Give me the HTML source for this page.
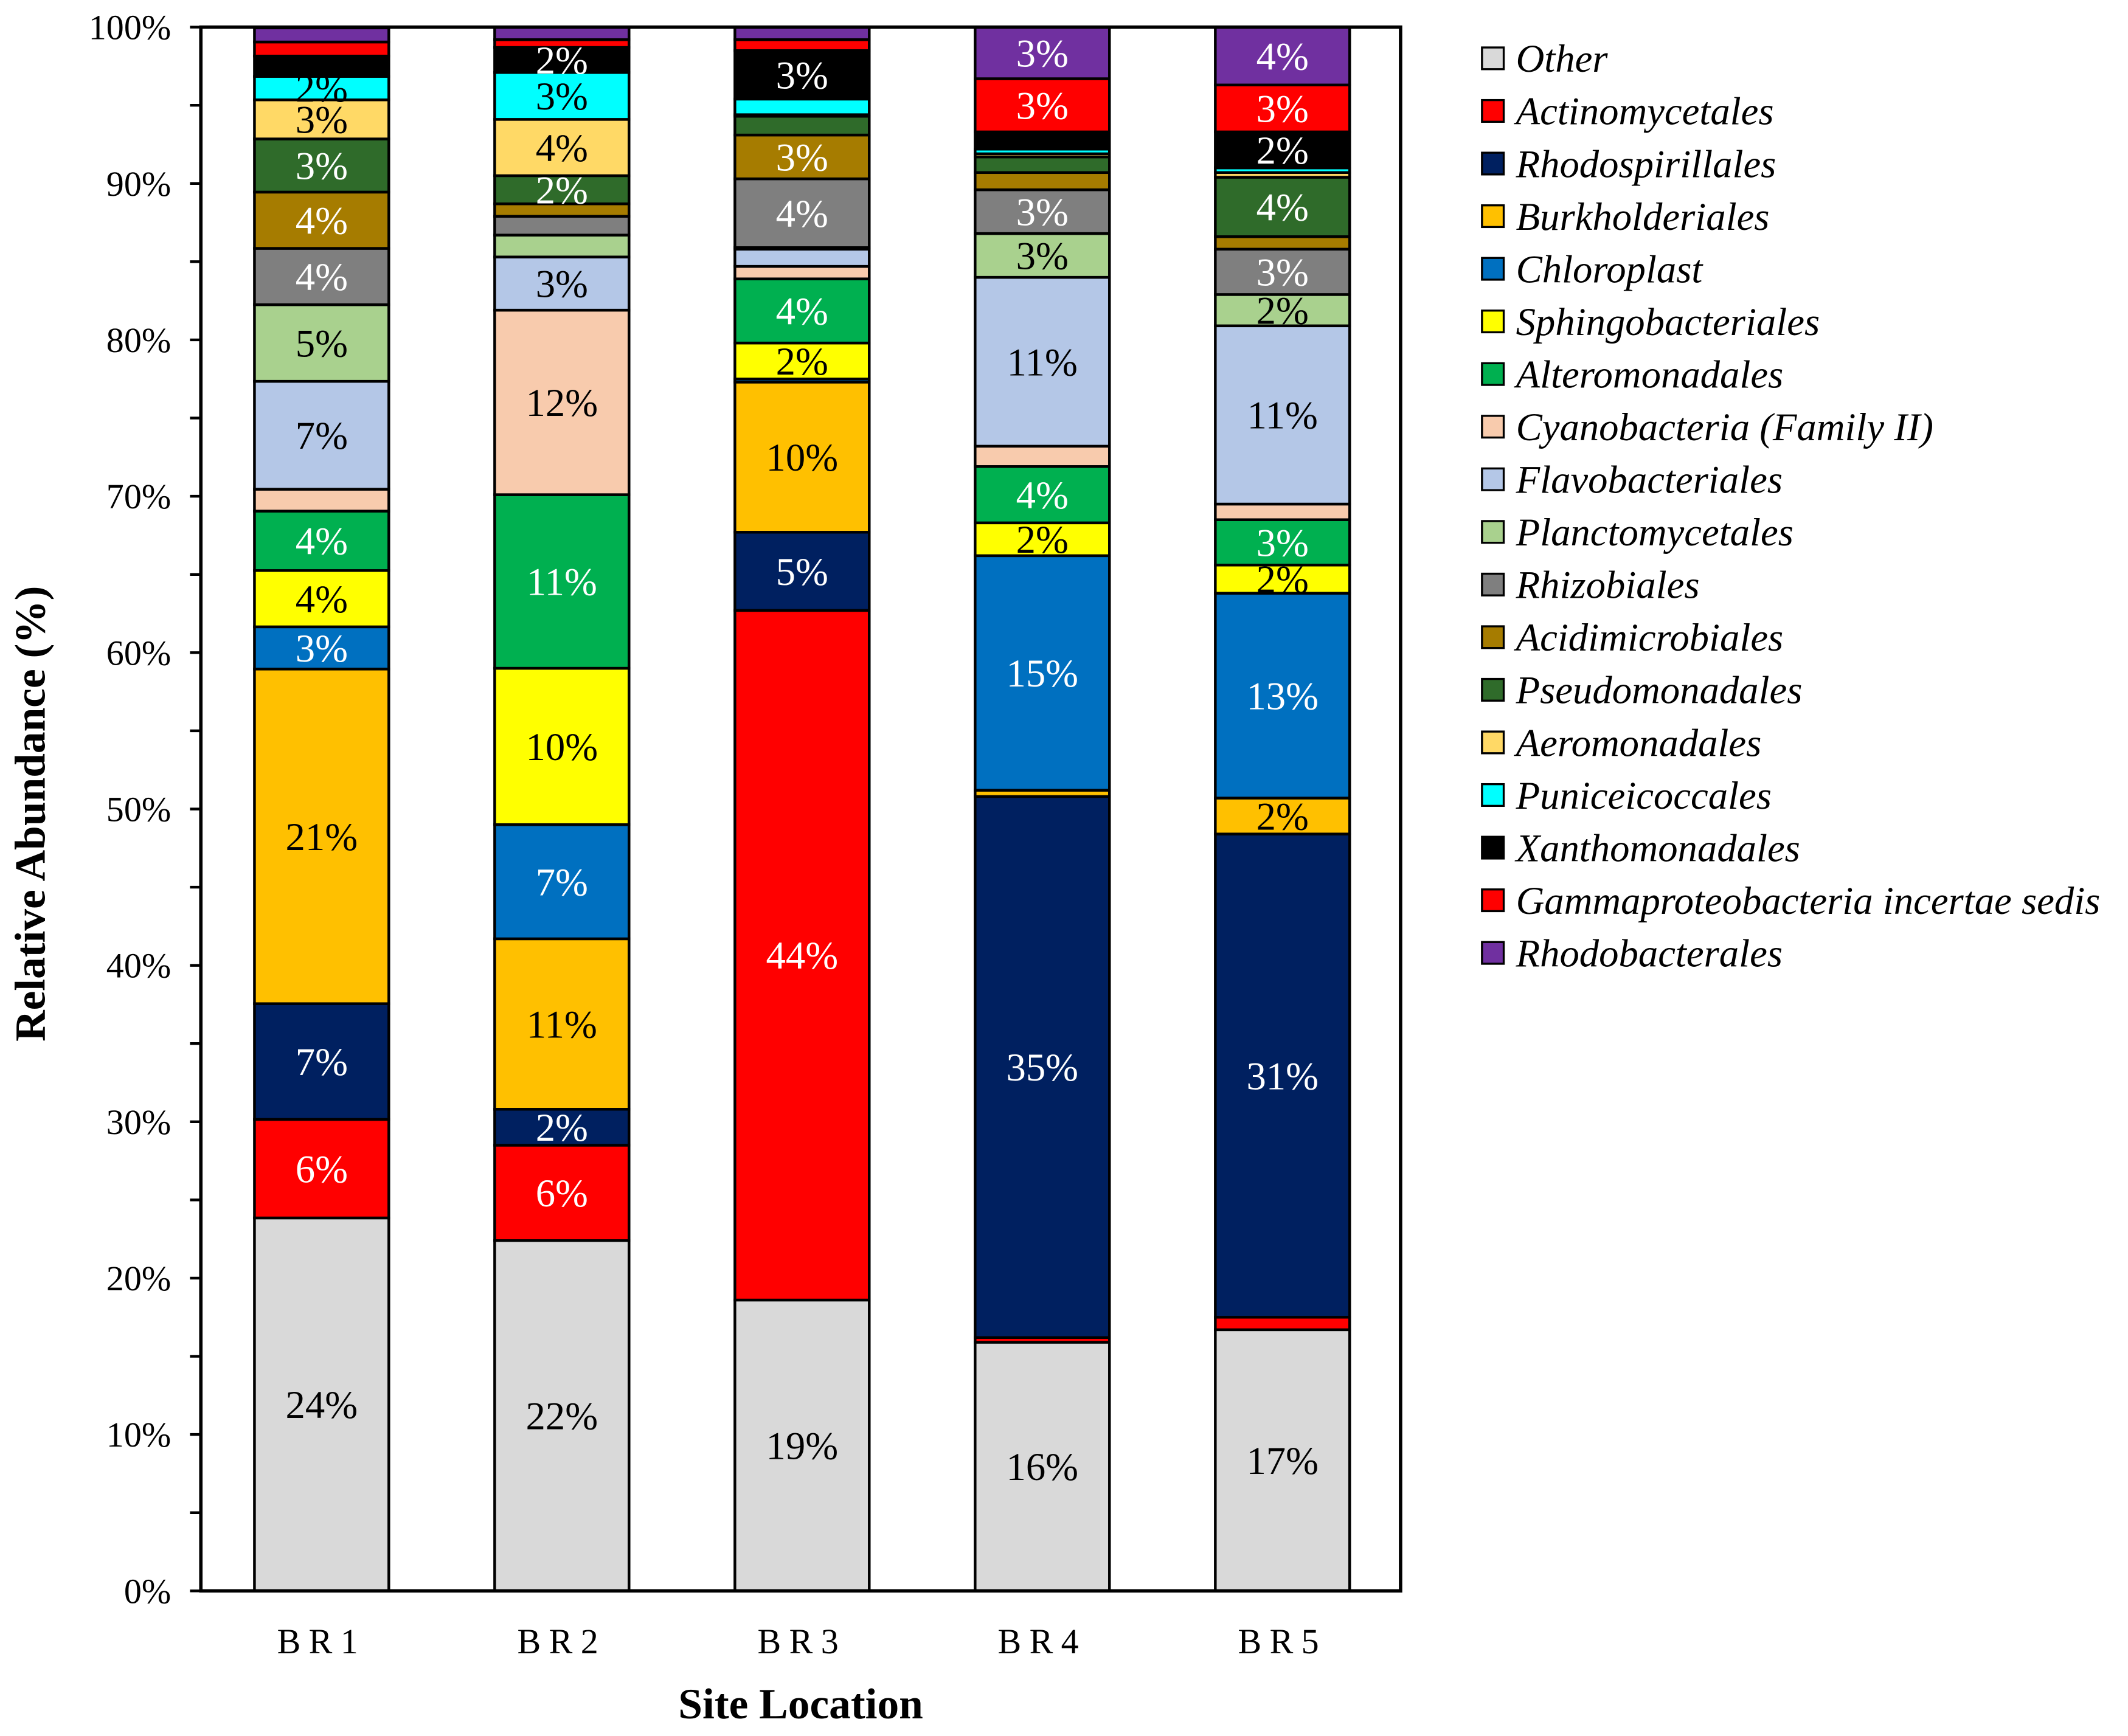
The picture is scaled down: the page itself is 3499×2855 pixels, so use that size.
<!DOCTYPE html>
<html><head><meta charset="utf-8"><style>
html,body{margin:0;padding:0;background:#fff;}
svg{display:block;}
svg text{font-family:"Liberation Serif","Times New Roman",serif;}
</style></head><body>
<svg id="chart" width="3499" height="2855" viewBox="0 0 1568 1280" preserveAspectRatio="none" xmlns="http://www.w3.org/2000/svg"></svg>
<script>
const categories = ["BR1","BR2","BR3","BR4","BR5"];
const seriesNames = ["Other","Actinomycetales","Rhodospirillales","Burkholderiales","Chloroplast","Sphingobacteriales","Alteromonadales","Cyanobacteria (Family II)","Flavobacteriales","Planctomycetales","Rhizobiales","Acidimicrobiales","Pseudomonadales","Aeromonadales","Puniceicoccales","Xanthomonadales","Gammaproteobacteria incertae sedis","Rhodobacterales"];
const seriesColors = ["#d9d9d9","#ff0000","#002060","#ffc000","#0070c0","#ffff00","#00b050","#f8cbad","#b4c7e7","#a9d18e","#7f7f7f","#a67c00","#2f6b2a","#ffd966","#00ffff","#000000","#ff0000","#7030a0"];
const labelWhite = [false,true,true,false,true,false,true,false,false,false,true,true,true,false,false,true,true,true];
const valuesBR1 = [23.85,6.3,7.4,21.4,2.7,3.6,3.8,1.4,6.9,4.9,3.6,3.6,3.4,2.5,1.5,1.3,0.9,0.9];
const valuesBR2 = [22.4,6.1,2.3,10.9,7.3,10.0,11.1,11.8,3.4,1.4,1.2,0.8,1.8,3.6,3.0,1.6,0.5,0.8];
const valuesBR3 = [18.6,44.1,5.0,9.6,0.2,2.3,4.1,0.8,1.1,0.1,4.4,2.8,1.2,0.1,1.0,3.1,0.7,0.8];
const valuesBR4 = [15.9,0.3,34.6,0.4,15.0,2.1,3.6,1.3,10.8,2.8,2.8,1.1,1.0,0.2,0.3,1.1,3.4,3.3];
const valuesBR5 = [16.7,0.8,30.9,2.3,13.1,1.8,2.9,1.0,11.4,2.0,2.9,0.8,3.8,0.3,0.3,2.3,3.0,3.7];
const allValues = [valuesBR1,valuesBR2,valuesBR3,valuesBR4,valuesBR5];
const yTicks = [0,10,20,30,40,50,60,70,80,90,100];

const NS="http://www.w3.org/2000/svg";
const svg=document.getElementById('chart');
const L=148,R=1032,T=20,B=1173;
const y=v=>B-(B-T)*v/100;
const xc=i=>237+177*i;
const BW=99;
function mk(tag,attrs,parent){const e=document.createElementNS(NS,tag);for(const k in attrs)e.setAttribute(k,attrs[k]);(parent||svg).appendChild(e);return e;}

allValues.forEach((vals,i)=>{
  let cum=0;
  vals.forEach((v,s)=>{
    const y0=y(cum),y1=y(cum+v);
    const r=mk('rect',{x:xc(i)-BW/2,y:y1,width:BW,height:y0-y1,fill:seriesColors[s],stroke:'#000','stroke-width':2});
    
    
    cum+=v;
  });
  cum=0;
  vals.forEach((v,s)=>{
    if(v>=1.5){
      const t=mk('text',{x:xc(i),y:(y(cum)+y(cum+v))/2+10,'text-anchor':'middle','font-size':29,fill:labelWhite[s]?'#fff':'#000'});
      t.textContent=Math.round(v)+'%';
      
      
    }
    cum+=v;
  });
  const c=mk('text',{x:xc(i),y:1219,'text-anchor':'middle','font-size':26,'letter-spacing':6});
  c.textContent=categories[i];
  
  
});
const f=mk('rect',{x:L,y:T,width:R-L,height:B-T,fill:'none',stroke:'#000','stroke-width':2.5});


yTicks.forEach(v=>{
  mk('line',{x1:L-8,x2:L,y1:y(v),y2:y(v),stroke:'#000','stroke-width':2});
  if(v<100) mk('line',{x1:L-8,x2:L,y1:y(v+5),y2:y(v+5),stroke:'#000','stroke-width':2});
  const t=mk('text',{x:L-22,y:y(v)+9,'text-anchor':'end','font-size':26});
  t.textContent=v+'%';
  
  
});
const yt=mk('text',{x:0,y:0,transform:'translate(33,600) rotate(-90)','text-anchor':'middle','font-size':32,'font-weight':'bold'});
yt.textContent='Relative Abundance (%)';


const xt=mk('text',{x:590,y:1267,'text-anchor':'middle','font-size':32,'font-weight':'bold'});
xt.textContent='Site Location';


seriesNames.forEach((n,s)=>{
  const cy=43+38.8*s;
  const g=mk('g',{});
  
  
  mk('rect',{x:1092,y:cy-8,width:16,height:16,fill:seriesColors[s],stroke:'#000','stroke-width':1.5},g);
  const t=mk('text',{x:1117,y:cy+10,'font-size':29,'font-style':'italic'},g);
  t.textContent=n;
});
</script>
</body></html>
